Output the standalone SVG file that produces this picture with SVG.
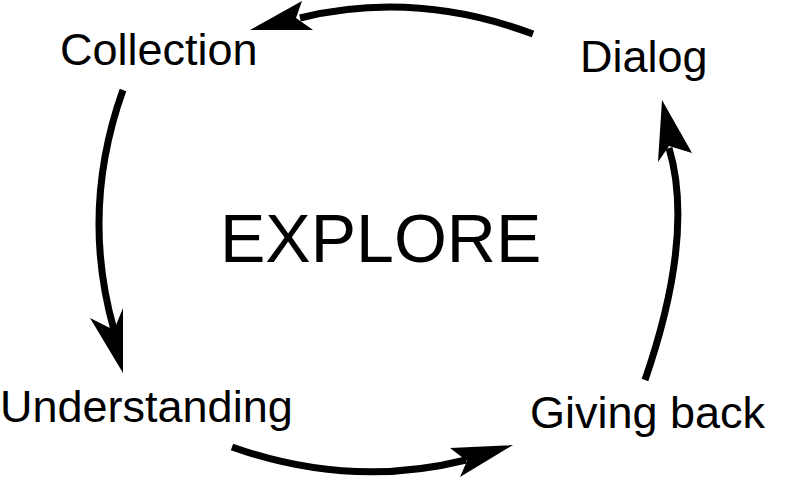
<svg xmlns="http://www.w3.org/2000/svg" width="796" height="477" viewBox="0 0 796 477">
<style>
.lbl{font-family:"Liberation Sans",Arial,sans-serif;font-size:45px;fill:#000}
.title{font-family:"Liberation Sans",Arial,sans-serif;font-size:68px;fill:#000}
.arc{fill:none;stroke:#000;stroke-width:7}
.head{fill:#000;stroke:none}
</style>
<rect width="796" height="477" fill="#fff"/>
<g id="explore"><text class="title" x="220" y="262">EXPLORE</text></g>
<g id="collection"><text class="lbl" x="60" y="65">Collection</text></g>
<g id="dialog"><text class="lbl" x="580" y="72">Dialog</text></g>
<g id="understanding"><text class="lbl" x="0" y="422">Understanding</text></g>
<g id="giving-back"><text class="lbl" x="530" y="428">Giving back</text></g>
<g id="connectors">
<path class="arc" d="M533,34 Q415,-10 300,18"/>
<polygon class="head" points="250,30 302,1 296,18 313,30"/>
<path class="arc" d="M123,90 Q80,210 114,330"/>
<polygon class="head" points="123,373 90,318 114,330 123,308"/>
<path class="arc" d="M232,447 Q350,489 466,460"/>
<polygon class="head" points="513,445 450,448 467,461 460,477"/>
<path class="arc" d="M645,380 Q695,235 669,148"/>
<polygon class="head" points="662,100 692,153 669,146 658,162"/>
</g>
</svg>
